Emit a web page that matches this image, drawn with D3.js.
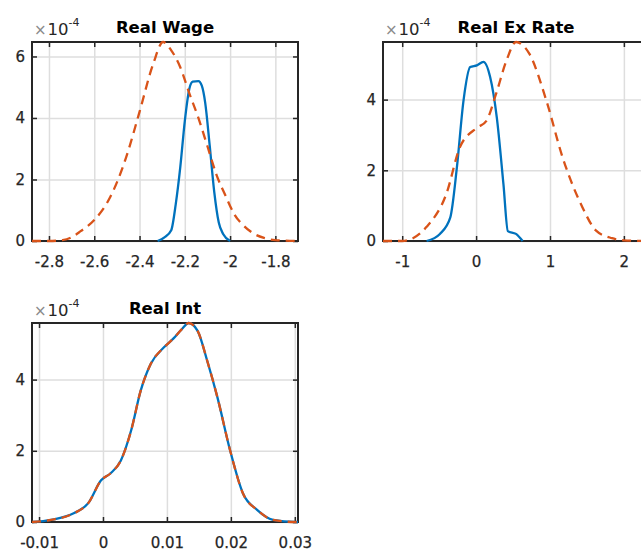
<!DOCTYPE html>
<html>
<head>
<meta charset="utf-8">
<script src="https://cdn.jsdelivr.net/npm/d3@7"></script>
<style>
  body { margin: 0; background: #fff; }
  svg { display: block; }
  .tick text { font-family: "DejaVu Sans", sans-serif; font-size: 15px; fill: #262626; stroke: #262626; stroke-width: 0.25px; }
  .title { font-family: "DejaVu Sans", sans-serif; font-size: 16.5px; font-weight: bold; fill: #000; }
  .expo { font-family: "DejaVu Sans", sans-serif; fill: #262626; }
</style>
</head>
<body>
<div id="chart"></div>
<script>
// Data (y values in units of 1e-4)
var wageBlueX = [-2.32, -2.29, -2.26, -2.24, -2.22, -2.20, -2.18, -2.165, -2.14, -2.125, -2.11, -2.09, -2.07, -2.05, -2.03, -2.00];
var wageBlueY = [0, 0.12, 0.35, 1.2, 2.4, 3.9, 4.95, 5.18, 5.2, 5.05, 4.5, 3.1, 1.6, 0.6, 0.22, 0];
var wageRedX = [-2.875, -2.80, -2.74, -2.70, -2.66, -2.60, -2.53, -2.46, -2.40, -2.34, -2.296, -2.26, -2.22, -2.18, -2.14, -2.10, -2.06, -2.02, -1.98, -1.94, -1.90, -1.85, -1.80, -1.70];
var wageRedY = [0, 0, 0.03, 0.12, 0.32, 0.68, 1.42, 2.7, 4.2, 5.75, 6.47, 6.2, 5.65, 4.8, 4.0, 3.08, 2.15, 1.47, 0.85, 0.5, 0.26, 0.1, 0.03, 0];

var exBlueX = [-0.67, -0.49, -0.35, -0.26, -0.17, -0.08, 0.01, 0.10, 0.19, 0.28, 0.37, 0.43, 0.54, 0.63];
var exBlueY = [0, 0.2, 0.66, 2.08, 3.98, 4.92, 4.97, 5.07, 4.64, 3.5, 1.61, 0.28, 0.2, 0];
var exRedX = [-1.26, -1.0, -0.67, -0.40, -0.22, 0.01, 0.14, 0.27, 0.41, 0.54, 0.72, 0.95, 1.17, 1.44, 1.62, 1.84, 2.0, 2.34];
var exRedY = [0, 0, 0.4, 1.35, 2.65, 3.2, 3.4, 4.16, 5.1, 5.63, 5.3, 3.98, 2.37, 0.95, 0.3, 0.08, 0.02, 0];

var intX = [-0.0111, -0.0081, -0.0045, -0.0023, -0.0003, 0.0012, 0.0028, 0.0044, 0.0059, 0.0075, 0.0095, 0.011, 0.0124, 0.0134, 0.0148, 0.0163, 0.0179, 0.0199, 0.0219, 0.0241, 0.0266, 0.030, 0.0305];
var intBlueY = [0, 0.06, 0.25, 0.53, 1.17, 1.37, 1.73, 2.57, 3.69, 4.45, 4.9, 5.15, 5.43, 5.59, 5.37, 4.53, 3.5, 2.0, 0.8, 0.34, 0.06, 0, 0];
var intRedY = [0, 0.06, 0.25, 0.53, 1.17, 1.37, 1.73, 2.57, 3.69, 4.45, 4.9, 5.15, 5.43, 5.59, 5.37, 4.53, 3.5, 2.0, 0.8, 0.34, 0.06, 0, 0];

var wageXTicks = [-2.8, -2.6, -2.4, -2.2, -2, -1.8];
var wageYTicks = [0, 2, 4, 6];
var exXTicks = [-1, 0, 1, 2];
var exYTicks = [0, 2, 4];
var intXTicks = [-0.01, 0, 0.01, 0.02, 0.03];
var intYTicks = [0, 2, 4];

var titles = ["Real Wage", "Real Ex Rate", "Real Int"];

var blue = "#0072BD", red = "#D95319";
var panelW = 266, panelH = 199;

var svg = d3.select("#chart")
  .append("svg")
  .attr("width", 641)
  .attr("height", 551);

function zip(xs, ys) {
  return xs.map(function(x, i) { return [x, ys[i]]; });
}

function styleAxis(a, color) {
  a.select(".domain").remove();
  a.selectAll("line").attr("stroke", color).attr("stroke-width", 1.5);
}

function drawPanel(left, top, title, xDomain, yMax, xTicks, yTicks, series) {
  var g = svg.append("g").attr("transform", "translate(" + left + "," + top + ")");

  var x = d3.scaleLinear().domain(xDomain).range([0, panelW]);
  var y = d3.scaleLinear().domain([0, yMax]).range([panelH, 0]);

  // grid lines
  g.append("g")
    .attr("transform", "translate(0," + panelH + ")")
    .call(d3.axisBottom(x).tickValues(xTicks).tickSize(-panelH).tickFormat(""))
    .call(styleAxis, "#dedede");
  g.append("g")
    .call(d3.axisLeft(y).tickValues(yTicks).tickSize(-panelW).tickFormat(""))
    .call(styleAxis, "#dedede");

  // inner ticks + labels
  var fmt = function(d) { return String(d); };
  g.append("g")
    .attr("transform", "translate(0," + panelH + ")")
    .call(d3.axisBottom(x).tickValues(xTicks).tickSize(-5).tickPadding(15).tickFormat(fmt))
    .call(styleAxis, "#262626");
  g.append("g")
    .call(d3.axisTop(x).tickValues(xTicks).tickSize(-5).tickFormat(""))
    .call(styleAxis, "#262626");
  g.append("g")
    .call(d3.axisLeft(y).tickValues(yTicks).tickSize(-5).tickPadding(7).tickFormat(fmt))
    .call(styleAxis, "#262626");
  g.append("g")
    .attr("transform", "translate(" + panelW + ",0)")
    .call(d3.axisRight(y).tickValues(yTicks).tickSize(-5).tickFormat(""))
    .call(styleAxis, "#262626");

  g.selectAll(".tick text").attr("font-family", null).attr("font-size", null);

  // box
  g.append("rect")
    .attr("width", panelW)
    .attr("height", panelH)
    .attr("fill", "none")
    .attr("stroke", "#262626")
    .attr("stroke-width", 2);

  // curves (drawn above the axes, like MATLAB)
  var line = d3.line()
    .x(function(d) { return x(d[0]); })
    .y(function(d) { return y(d[1]); })
    .curve(d3.curveMonotoneX);

  series.forEach(function(s) {
    g.append("path")
      .datum(s.points)
      .attr("fill", "none")
      .attr("stroke", s.color)
      .attr("stroke-width", 2.3)
      .attr("stroke-dasharray", s.dash ? "9,6" : null)
      .attr("d", line);
  });

  // title
  g.append("text")
    .attr("class", "title")
    .attr("x", panelW / 2)
    .attr("y", -9)
    .attr("text-anchor", "middle")
    .text(title);

  // exponent label
  var ex = g.append("text")
    .attr("class", "expo")
    .attr("x", 2)
    .attr("y", -7);
  ex.append("tspan").attr("font-size", 15).attr("fill", "#8a8a8a").text("\u00d7");
  ex.append("tspan").attr("font-size", 16.5).attr("dx", 1).text("10");
  ex.append("tspan").attr("font-size", 11).attr("dy", -9).text("-4");
}

drawPanel(32, 42, titles[0], [-2.875, -1.70], 6.47, wageXTicks, wageYTicks, [
  {points: zip(wageBlueX, wageBlueY), color: blue, dash: false},
  {points: zip(wageRedX, wageRedY), color: red, dash: true}
]);

drawPanel(383, 42, titles[1], [-1.26, 2.34], 5.63, exXTicks, exYTicks, [
  {points: zip(exBlueX, exBlueY), color: blue, dash: false},
  {points: zip(exRedX, exRedY), color: red, dash: true}
]);

drawPanel(32, 323, titles[2], [-0.0111, 0.0305], 5.59, intXTicks, intYTicks, [
  {points: zip(intX, intBlueY), color: blue, dash: false},
  {points: zip(intX, intRedY), color: red, dash: true}
]);
</script>
</body>
</html>
